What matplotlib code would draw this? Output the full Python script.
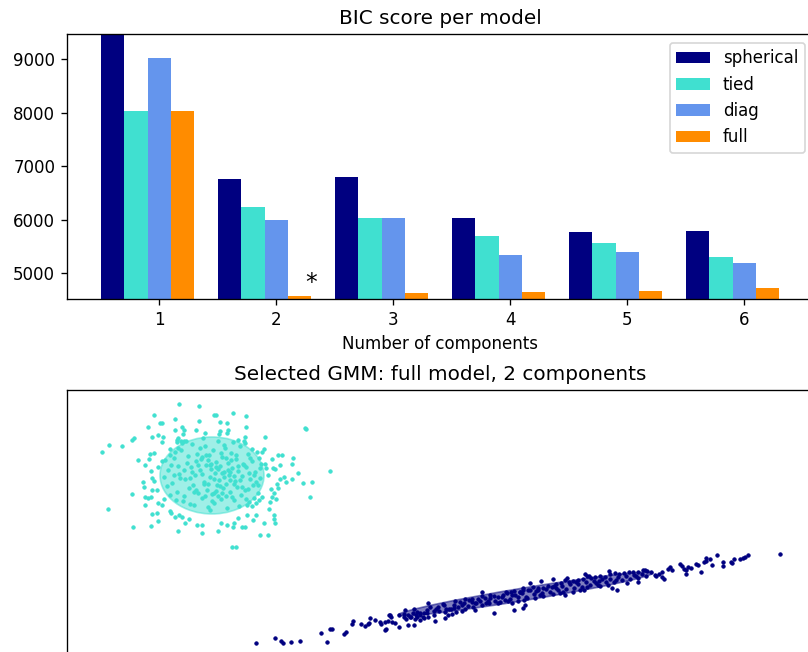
import matplotlib
matplotlib.use("Agg")
import matplotlib.pyplot as plt
import matplotlib.patches as mpatches
import numpy as np

# BIC scores
n_components = [1, 2, 3, 4, 5, 6]
cv_types = ["spherical", "tied", "diag", "full"]
bic_spherical = [9465, 6762, 6806, 6038, 5777, 5795]
bic_tied = [8026, 6238, 6032, 5694, 5570, 5300]
bic_diag = [9018, 5994, 6032, 5345, 5388, 5188]
bic_full = [8026, 4565, 4625, 4651, 4670, 4713]
colors = ["navy", "turquoise", "cornflowerblue", "darkorange"]

# selected model: 2 components (estimated point positions, arbitrary units)
blob_x = [-41.83, -41.1, -39.77, -41.23, -38.83, -38.73, -38.23, -38.83, -38.57, -36.63,
          -34.13, -32.07, -30.63, -30.43, -34.5, -36.03, -35.83, -37.17, -32.1, -33.77,
          -33.63, -34.5, -36.83, -36.23, -35.7, -34.23, -34.3, -35.77, -33.7, -32.4,
          -31.5, -36.97, -36.63, -37.1, -37.5, -36.17, -35.83, -36.9, -36.83, -37.7,
          -36.57, -37.63, -37.5, -37.23, -36.77, -36.3, -36.9, -37.5, -36.23, -35.57,
          -35.83, -36.77, -36.3, -36.23, -34.97, -34.9, -34.5, -34.1, -33.83, -33.5,
          -33.1, -32.3, -31.77, -34.17, -31.83, -36.9, -35.5, -34.97, -34.17, -34.3,
          -33.9, -33.57, -28.7, -27.37, -30.03, -29.3, -27.37, -29.17, -29.3, -29.97,
          -30.1, -27.5, -25.5, -28.23, -27.5, -21.5, -21.37, -25.57, -25.83, -24.83,
          -24.23, -23.83, -22.7, -22.77, -24.03, -25.5, -25.43, -24.7, -24.5, -22.23,
          -25.17, -24.03, -23.63, -23.43, -22.83, -18.97, -21.7, -20.77, -24.3, -24.17,
          -24.9, -24.63, -24.83, -24.37, -20.97, -25.83, -26.1, -26.37, -24.97, -25.1,
          -26.83, -24.63, -24.63, -24.5, -27.3, -26.37, -25.57, -26.7, -28.17, -28.63,
          -29.3, -29.9, -27.77, -27.5, -28.7, -30.17, -26.03, -25.23, -28.83, -28.37,
          -35.2, -34.8, -34.6, -34.3, -34.1, -33.9, -33.7, -33.5, -33.3, -33.1,
          -32.9, -32.8, -32.6, -32.5, -32.3, -32.2, -32.0, -31.9, -31.8, -31.6,
          -31.5, -31.4, -31.3, -31.2, -31.1, -31.0, -30.9, -30.8, -30.7, -30.6,
          -30.5, -30.4, -30.3, -30.2, -30.1, -30.0, -29.9, -29.8, -29.7, -29.6,
          -29.5, -29.4, -29.3, -29.2, -29.1, -29.0, -28.9, -28.8, -28.6, -28.5,
          -28.4, -28.3, -28.2, -28.0, -27.9, -27.8, -27.7, -27.5, -27.4, -27.2,
          -27.1, -27.0, -26.8, -26.7, -26.5, -26.3, -26.2, -26.0, -25.9, -35.6,
          -35.0, -34.4, -33.8, -33.0, -32.4, -31.7, -31.0, -30.4, -29.9, -29.4,
          -28.7, -28.1, -27.6, -27.3, -26.6, -26.1, -31.8, -30.6, -29.6, -30.2,
          -31.2, -29.0, -32.7, -28.6, -30.9, -29.8, -33.6, -27.1, -31.5, -28.9,
          -35.3, -34.9, -34.5, -34.0, -33.6, -33.2, -32.8, -32.4, -32.0, -31.6,
          -31.2, -30.8, -30.4, -30.0, -29.6, -29.2, -28.8, -28.4, -28.0, -27.6,
          -27.2, -26.8, -26.4, -26.0, -35.0, -34.2, -33.4, -32.6, -31.8, -31.0,
          -30.2, -29.4, -28.6, -27.8, -27.0, -26.2, -33.0, -31.4, -29.8, -28.2,
          -26.6, -34.6, -32.2, -30.6, -29.0, -27.4]
blob_y = [14.2, 14.93, 14.8, 8.47, 10.0, 6.67, 13.4, 15.4, 15.6, 17.93,
          19.0, 18.8, 17.87, 17.87, 17.47, 17.07, 17.07, 16.73, 17.33, 16.67,
          16.4, 16.37, 15.67, 15.87, 15.67, 15.6, 15.4, 15.2, 16.0, 16.4,
          16.13, 14.0, 14.13, 13.53, 12.87, 12.73, 13.33, 12.27, 11.6, 11.2,
          11.33, 10.67, 9.73, 9.6, 10.4, 10.4, 9.67, 8.87, 9.07, 9.53,
          8.87, 8.0, 8.13, 7.33, 8.27, 8.07, 7.73, 7.87, 7.73, 7.13,
          7.47, 6.93, 6.93, 6.27, 6.13, 6.8, 13.4, 14.53, 14.6, 15.2,
          15.27, 15.33, 18.07, 17.8, 17.2, 17.07, 16.73, 16.4, 16.13, 16.27,
          16.0, 15.73, 15.73, 15.4, 15.07, 16.6, 16.47, 14.53, 14.2, 13.47,
          13.87, 13.87, 13.6, 13.0, 12.87, 13.0, 12.6, 12.6, 12.47, 12.07,
          11.93, 11.53, 11.67, 11.2, 11.47, 12.27, 11.07, 11.2, 11.0, 10.6,
          10.53, 10.07, 9.73, 9.53, 9.67, 9.67, 9.4, 9.07, 9.2, 8.47,
          8.8, 7.87, 7.47, 7.07, 7.87, 7.87, 7.13, 7.4, 7.6, 7.13,
          6.87, 7.13, 6.67, 6.67, 6.67, 6.33, 5.93, 5.87, 4.73, 4.73,
          12.4, 11.1, 13.6, 10.2, 12.0, 14.4, 9.3, 11.5, 13.1, 10.6,
          12.7, 15.0, 8.9, 11.9, 14.0, 10.1, 12.4, 13.5, 9.6, 11.2,
          14.8, 12.9, 10.4, 8.7, 13.9, 11.7, 12.5, 10.0, 14.4, 9.1,
          12.1, 13.2, 10.9, 15.3, 11.4, 12.8, 9.5, 13.7, 10.6, 12.2,
          14.6, 11.0, 8.6, 13.1, 11.9, 10.2, 14.1, 12.6, 9.4, 11.3,
          13.5, 10.7, 12.3, 14.8, 9.9, 11.8, 13.0, 10.4, 12.7, 14.0,
          9.2, 11.5, 13.3, 10.9, 12.2, 14.2, 10.1, 11.6, 13.0, 11.7,
          13.9, 9.4, 15.1, 9.0, 13.3, 15.6, 8.4, 10.3, 14.1, 9.8,
          15.2, 8.8, 15.3, 8.9, 9.6, 13.6, 12.0, 11.5, 11.7, 12.5,
          11.0, 12.2, 10.9, 11.0, 13.0, 10.1, 12.4, 12.1, 9.8, 13.4,
          10.8, 12.9, 14.2, 11.6, 9.8, 13.8, 12.2, 10.4, 14.6, 11.0,
          13.4, 9.3, 12.7, 10.8, 14.9, 12.4, 9.7, 13.9, 11.4, 12.9,
          10.5, 14.5, 11.2, 12.6, 9.9, 12.8, 15.3, 10.2, 13.7, 12.9,
          9.8, 13.6, 11.8, 10.7, 13.6, 10.9, 11.6, 13.9, 12.1, 12.8,
          11.9, 11.9, 12.9, 10.1, 11.4, 9.5]

line_x = [-26.4, -24.53, -23.93, -23.67, -22.93, -22.0, -19.93, -19.27, -19.0, -18.8,
          -17.6, -17.4, -16.8, -16.67, -15.93, -15.47, -15.2, -15.07, -15.0, -14.47,
          -14.0, -13.87, -13.53, -13.47, -13.13, -13.2, -13.03, -12.9, -12.83, -13.37,
          -12.1, -12.5, -11.23, -10.57, -12.1, -11.63, -11.17, -10.7, -10.3, -10.03,
          -9.57, -9.3, -9.23, -10.03, -8.5, -7.5, -8.17, -7.63, -7.1, -6.63,
          -6.17, -5.63, -5.17, -4.77, -4.83, -4.5, -4.03, -3.5, -3.83, -2.97,
          -3.1, -2.5, -2.17, -1.7, -1.3, -0.9, -0.5, -0.03, 0.3, -2.63,
          -4.5, -5.83, -8.63, -7.5, -6.83, -5.5, -6.5, -0.83, -0.17, -1.5,
          -1.97, -3.83, -0.63, -11.63, -11.43, -10.9, -10.5, -9.7, -9.17, -10.3,
          0.33, 0.53, 0.0, 0.33, 0.8, 1.33, 1.8, 2.33, 2.8, 3.2,
          3.6, 4.07, 4.47, 4.93, 5.33, 5.8, 6.27, 6.67, 7.13, 7.53,
          8.0, 8.47, 9.0, 9.47, 9.93, 10.4, 10.87, 11.33, 11.8, 12.27,
          12.67, 13.07, 13.53, 0.67, 1.47, 2.33, 3.33, 4.33, 5.33, 6.67,
          8.0, 9.2, 9.67, 10.67, 11.8, 7.87, 4.53, 6.0, 1.0, 2.07,
          3.33, 4.67, 6.53, 6.87, 8.87, 12.53, 13.63, 13.9, 14.17, 14.43,
          14.23, 14.83, 14.97, 15.17, 15.97, 16.17, 16.37, 16.63, 16.77, 16.57,
          17.1, 17.57, 17.77, 18.1, 18.37, 18.63, 18.57, 19.03, 19.23, 19.7,
          20.3, 20.3, 21.1, 21.37, 21.23, 22.03, 22.3, 22.5, 22.83, 25.97,
          -11.5, -11.0, -10.6, -10.0, -9.6, -9.0, -8.6, -8.1, -7.7, -7.2,
          -6.9, -6.4, -6.0, -5.5, -5.1, -4.7, -4.2, -3.8, -3.4, -3.0,
          -2.6, -2.2, -1.8, -1.4, -1.0, -0.6, -0.2, 0.2, 0.6, 1.0,
          1.4, 1.8, 2.2, 2.6, 3.0, 3.4, 3.8, 4.2, 4.6, 5.0,
          5.4, 5.8, 6.2, 6.6, 7.0, 7.4, 7.8, 8.2, 8.6, 9.0,
          9.4, 9.8, 10.2, 10.6, 11.0, 11.4, 11.8, 12.2, 12.6, -9.3,
          -7.4, -5.8, -3.2, -0.8, 1.6, 3.6, 5.6, 7.6, 9.6, 11.6,
          -1.2, 0.4, 2.0, 4.0, 6.4, 8.8, -4.4, -6.6, -8.4, -10.4]
line_y = [-4.87, -4.4, -4.73, -4.87, -4.8, -4.67, -3.93, -4.77, -3.47, -3.47,
          -4.03, -3.83, -3.0, -2.73, -3.0, -3.2, -3.0, -2.87, -2.4, -2.6,
          -2.8, -3.0, -2.8, -3.6, -2.07, -2.67, -2.07, -2.27, -2.8, -3.53,
          -3.33, -2.93, -3.07, -3.07, -2.07, -2.0, -2.07, -1.93, -1.8, -2.07,
          -1.87, -1.6, -0.93, -2.6, -2.73, -2.4, -1.27, -1.07, -1.47, -1.07,
          -1.33, -0.87, -1.2, -0.8, -0.47, -0.87, -0.73, -0.4, -0.2, -0.07,
          -0.87, -0.67, -0.33, -0.13, 0.07, 0.2, -0.07, 0.2, 0.4, -1.87,
          -1.6, -1.73, -1.73, -1.8, -2.0, -0.47, -0.67, -0.93, -0.67, -0.6,
          -0.8, 0.2, -1.6, -2.27, -2.53, -2.27, -2.47, -2.27, -2.27, -2.27,
          -1.37, -1.1, 0.23, 0.57, 0.37, 0.7, 0.43, 0.57, 0.83, 0.7,
          0.97, 1.1, 1.37, 1.17, 1.3, 1.43, 1.5, 1.77, 1.57, 1.7,
          1.83, 1.7, 1.97, 2.1, 1.97, 2.1, 2.17, 2.23, 2.23, 2.37,
          2.3, 2.17, 1.9, -0.43, -0.43, -0.23, -0.03, 0.17, 0.17, 0.7,
          0.83, 0.57, 0.43, 1.1, 1.17, 1.3, -0.1, 0.43, 1.1, 1.3,
          1.5, 1.57, 1.97, 1.83, 2.3, 2.37, 1.83, 1.97, 1.7, 1.5,
          2.17, 2.5, 2.7, 2.37, 3.03, 2.77, 2.5, 2.43, 2.7, 1.97,
          2.63, 2.97, 2.9, 2.17, 3.17, 3.57, 3.3, 3.5, 2.9, 3.9,
          3.17, 2.83, 3.23, 3.5, 3.1, 3.5, 3.57, 3.7, 3.9, 4.03,
          -1.6, -2.3, -1.5, -1.9, -2.4, -1.3, -2.1, -1.7, -1.0, -2.1,
          -1.5, -1.8, -0.8, -1.5, -0.6, -1.3, -0.5, -1.1, -0.9, -0.4,
          -0.2, -0.9, -0.3, 0.2, -0.5, 0.3, -0.3, 0.1, -0.3, 0.4,
          0.0, 0.6, 0.1, 0.5, 0.2, 0.8, 0.4, 0.8, 0.5, 1.0,
          0.6, 1.0, 0.7, 1.2, 0.9, 1.3, 0.9, 1.5, 1.2, 1.5,
          1.2, 1.7, 1.4, 1.8, 1.5, 1.9, 1.6, 2.0, 1.8, -1.9,
          -1.5, -1.1, -0.7, -0.1, 0.3, 0.6, 1.2, 1.1, 1.4, 1.8,
          -0.7, -0.6, -0.1, 0.1, 0.4, 0.9, -0.9, -1.4, -1.5, -2.1]

# fitted gaussians: center, width, height, angle
line_ell = [(0.55, 0.0), 25.8, 1.25, 9.35]
blob_ell = [(-30.8, 11.85), 10.4, 7.7, 0.0]

fig = plt.figure(figsize=(808 / 120, 652 / 120), dpi=120)

# ---- BIC bars ----
spl = fig.add_axes([0.0827, 0.5414, 0.9239, 0.4057])
bic = np.array([bic_spherical, bic_tied, bic_diag, bic_full])
bars = []
for i, (cv_type, color) in enumerate(zip(cv_types, colors)):
    xpos = np.array(n_components) + 0.2 * (i - 2)
    bars.append(spl.bar(xpos, bic[i], width=0.2, color=color))
spl.set_xticks(n_components)
spl.set_ylim([bic.min() * 1.01 - 0.01 * bic.max(), bic.max()])
spl.set_title("BIC score per model")
best = bic.argmin()
xpos = np.mod(best, len(n_components)) + 0.65 + 0.2 * np.floor(best / len(n_components))
spl.text(xpos, bic.min() * 0.97 + 0.03 * bic.max(), "*", fontsize=14)
spl.set_xlabel("Number of components")
spl.legend([b[0] for b in bars], cv_types, loc="upper right")

# ---- selected model ----
splot = fig.add_axes([0.0827, -0.0038, 0.9239, 0.4057])
for (px, py), ell_def, color in [((line_x, line_y), line_ell, "navy"),
                                 ((blob_x, blob_y), blob_ell, "turquoise")]:
    splot.scatter(px, py, 4, color=color, linewidths=0.6)
    ell = mpatches.Ellipse(ell_def[0], ell_def[1], ell_def[2], angle=180.0 + ell_def[3], color=color)
    ell.set_alpha(0.5)
    splot.add_patch(ell)
splot.set_xlim(-45.32, 29.33)
splot.set_ylim(-6.05, 20.4)
splot.set_xticks(())
splot.set_yticks(())
splot.set_title("Selected GMM: full model, 2 components")

plt.savefig("out.png", dpi=120)
